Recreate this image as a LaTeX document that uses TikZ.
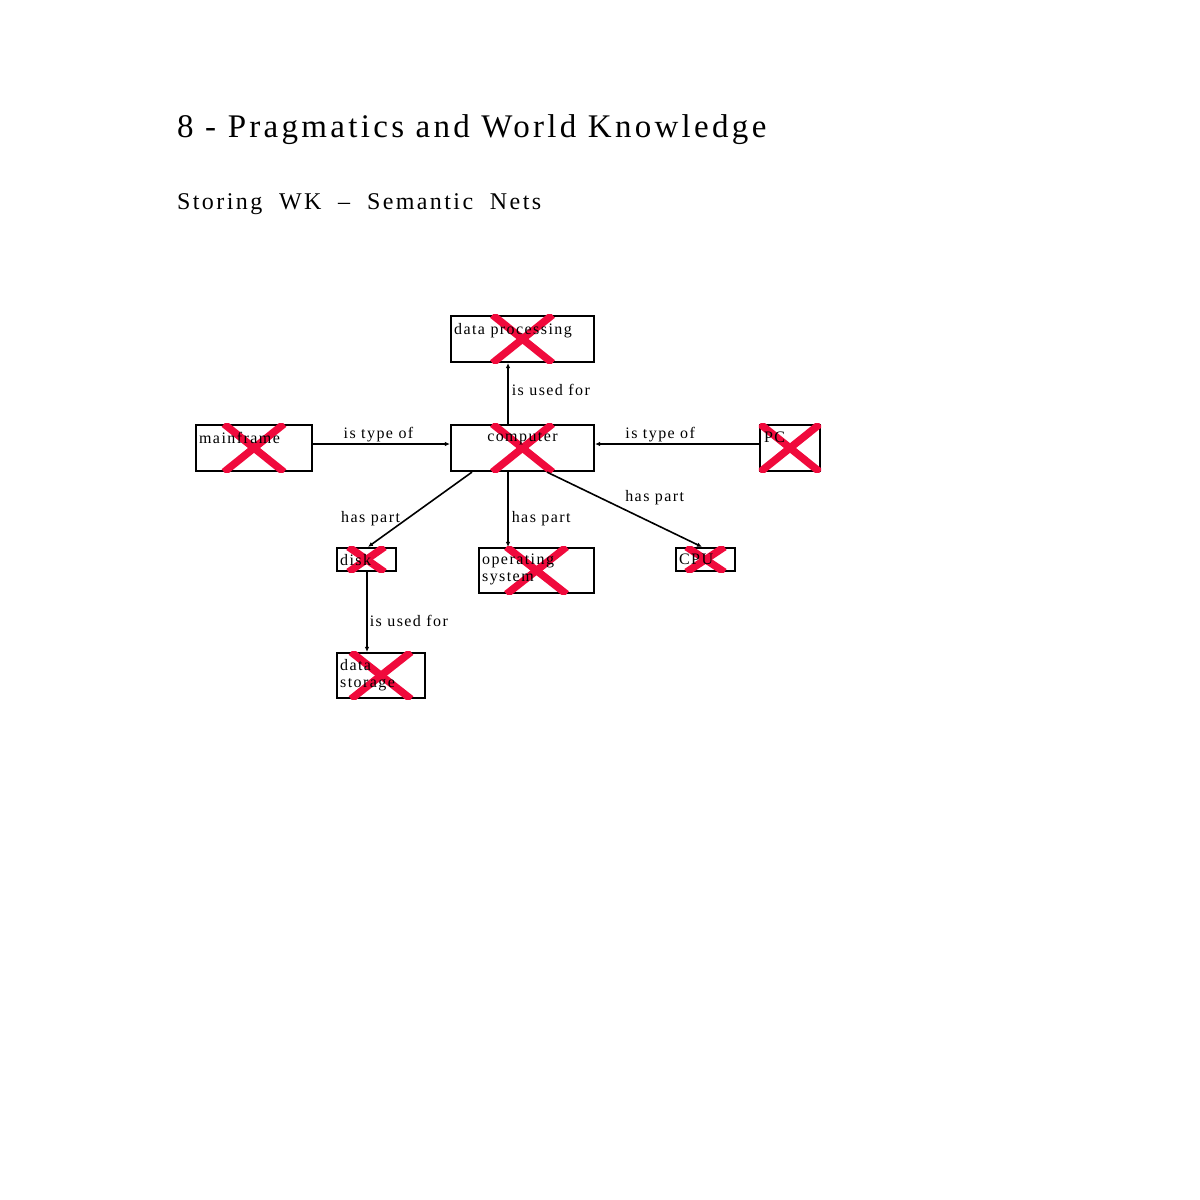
\documentclass[tikz,border=0pt]{standalone}
\usepackage{fontspec}
\setmainfont{Liberation Serif}[LetterSpace=9]
\newfontfamily\subtitlefont{Liberation Serif}[LetterSpace=10,WordSpace=2]
\usetikzlibrary{arrows.meta}
\definecolor{crossred}{RGB}{240,10,60}
\def\labelsize{\fontsize{16}{17}\selectfont}

\begin{document}
\begin{tikzpicture}[x=1pt,y=-1pt,
    netbox/.style={draw,line width=2.2pt,inner sep=0pt},
    boxtext/.style={inner sep=0pt,font=\labelsize,align=left},
    relation/.style={line width=1.6pt,-{Latex[length=5pt,width=4.5pt]}},
    rel/.style={inner sep=0pt,font=\labelsize}]
    \useasboundingbox (0,0) rectangle (1200,1200);
    \node[anchor=base west,inner sep=0pt,font=\fontsize{33}{38}\selectfont\addfontfeatures{LetterSpace=10}] (title) at (177,137) {8 - Pragmatics and World Knowledge};
    \node[anchor=base west,inner sep=0pt,font=\subtitlefont\fontsize{24}{28}\selectfont] (subtitle) at (177,209) {Storing WK – Semantic Nets};

    \node[netbox,minimum width=143pt,minimum height=46pt] (dataproc) at (522.5,339) {};
    \node[netbox,minimum width=143pt,minimum height=46pt] (computer) at (522.5,448) {};
    \node[netbox,minimum width=116pt,minimum height=46pt] (mainframe) at (254,448) {};
    \node[netbox,minimum width=60pt,minimum height=46pt] (pc) at (790,448) {};
    \node[netbox,minimum width=59pt,minimum height=23pt] (disk) at (366.5,559.5) {};
    \node[netbox,minimum width=115pt,minimum height=45pt] (opsys) at (536.5,570.5) {};
    \node[netbox,minimum width=59pt,minimum height=23pt] (cpu) at (705.5,559.5) {};
    \node[netbox,minimum width=88pt,minimum height=45pt] (storage) at (381,675.5) {};
    \foreach \b/\w in {dataproc/30,computer/30,mainframe/30,pc/30,disk/18,opsys/30,cpu/19,storage/30}
    {
        \begin{scope}
            \clip (\b.north west) rectangle (\b.south east);
            \draw[crossred,line width=7.5pt] ([xshift=-\w pt]\b.north) -- ([xshift=\w pt]\b.south);
            \draw[crossred,line width=7.5pt] ([xshift=\w pt]\b.north) -- ([xshift=-\w pt]\b.south);
        \end{scope}
    }
    \node[boxtext,anchor=north west] (dataproctext) at ([shift={(4,8)}]dataproc.north west) {data processing};
    \node[boxtext,anchor=north] (computertext) at ([shift={(0,8)}]computer.north) {computer};
    \node[boxtext,anchor=north west] (mainframetext) at ([shift={(4,8)}]mainframe.north west) {mainframe};
    \node[boxtext,anchor=north west] (pctext) at ([shift={(5,8)}]pc.north west) {PC};
    \node[boxtext,anchor=north west] (disktext) at ([shift={(4,7)}]disk.north west) {disk};
    \node[boxtext,anchor=north west] (opsystext) at ([shift={(4,7)}]opsys.north west) {operating\\system};
    \node[boxtext,anchor=north west] (cputext) at ([shift={(4,7)}]cpu.north west) {CPU};
    \node[boxtext,anchor=north west] (storagetext) at ([shift={(4,7)}]storage.north west) {data\\storage};

    \draw[relation] ([xshift=-14.5pt]computer.north) -- node[rel,pos=.46,anchor=base west,xshift=3pt] (usedforA) {is used for} ([xshift=-14.5pt]dataproc.south);
    \draw[relation] ([yshift=4pt]mainframe.east) -- node[rel,anchor=base,xshift=-3pt,yshift=6pt] (typeofA) {is type of} ([yshift=4pt]computer.west);
    \draw[relation] ([yshift=4pt]pc.west) -- node[rel,pos=.82,anchor=base west,yshift=6pt] (typeofB) {is type of} ([yshift=4pt]computer.east);
    \draw[relation] ([xshift=-50.5pt]computer.south) -- node[rel,pos=.675,anchor=base east,xshift=-1pt] (haspartA) {has part} ([xshift=1.5pt]disk.north);
    \draw[relation] ([xshift=-14.5pt]computer.south) -- node[rel,pos=.68,anchor=base west,xshift=3pt] (haspartB) {has part} ([xshift=-28.5pt]opsys.north);
    \draw[relation] ([xshift=24.5pt]computer.south) -- node[rel,anchor=base west,yshift=8.5pt] (haspartC) {has part} ([xshift=-3.5pt]cpu.north);
    \draw[relation] ([xshift=0.5pt]disk.south) -- node[rel,pos=.68,anchor=base west,xshift=2pt] (usedforB) {is used for} ([xshift=-14pt]storage.north);
\end{tikzpicture}
\end{document}
